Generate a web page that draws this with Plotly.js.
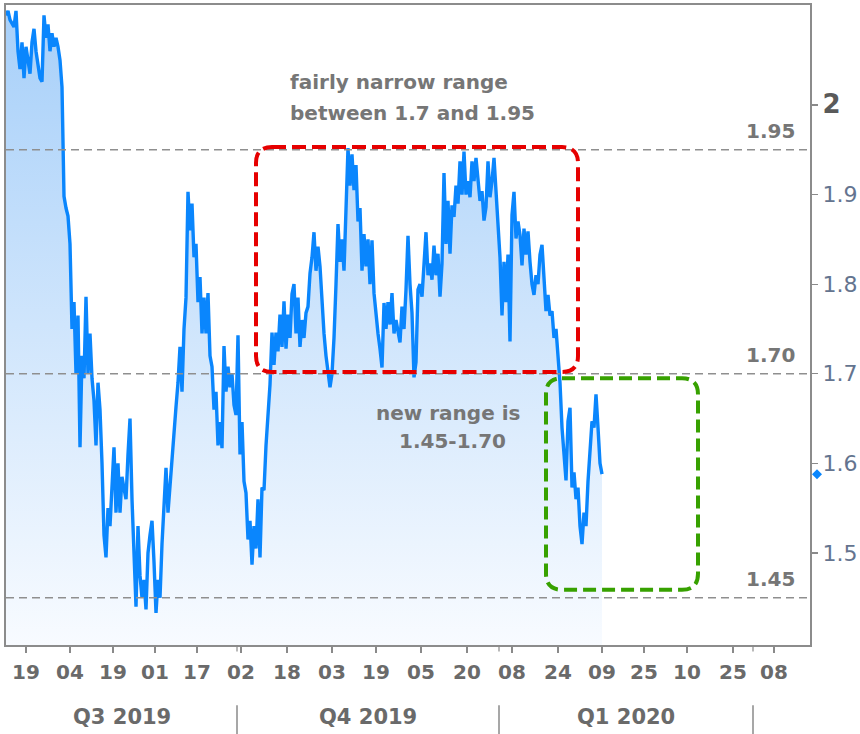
<!DOCTYPE html>
<html><head><meta charset="utf-8">
<script src="https://cdn.plot.ly/plotly-3.0.1.min.js"></script>
<style>html,body{margin:0;padding:0;background:#fff;} #chart{width:860px;height:734px;}</style>
</head><body><div id="chart"></div>
<script>
// 10-year yield, sampled at equal steps of the (trading-time) x axis
const yields = [
2.10,2.105,2.095,2.09,2.087,2.105,2.06,2.04,2.07,2.03,
2.065,2.05,2.035,2.07,2.085,2.06,2.045,2.03,2.026,2.10,
2.075,2.09,2.06,2.08,2.065,2.075,2.065,2.05,2.02,1.898,
1.885,1.876,1.845,1.75,1.78,1.70,1.765,1.618,1.72,1.695,
1.786,1.70,1.745,1.695,1.67,1.62,1.69,1.66,1.60,1.52,
1.495,1.55,1.53,1.577,1.618,1.545,1.60,1.545,1.585,1.572,
1.56,1.61,1.65,1.56,1.50,1.44,1.53,1.475,1.45,1.47,
1.437,1.50,1.52,1.536,1.49,1.433,1.47,1.45,1.51,1.56,
1.595,1.545,1.578,1.60,1.63,1.663,1.69,1.73,1.68,1.75,
1.785,1.903,1.86,1.89,1.83,1.845,1.78,1.808,1.745,1.785,
1.745,1.79,1.72,1.708,1.66,1.68,1.62,1.646,1.617,1.731,
1.68,1.708,1.685,1.70,1.665,1.654,1.743,1.61,1.646,1.58,
1.567,1.515,1.536,1.487,1.53,1.505,1.56,1.495,1.573,1.57,
1.62,1.65,1.688,1.746,1.71,1.746,1.725,1.766,1.73,1.781,
1.728,1.766,1.74,1.789,1.80,1.745,1.785,1.73,1.76,1.74,
1.768,1.775,1.812,1.83,1.858,1.815,1.842,1.82,1.775,1.745,
1.72,1.702,1.685,1.70,1.74,1.80,1.867,1.825,1.85,1.815,
1.90,1.952,1.91,1.945,1.905,1.933,1.87,1.885,1.815,1.856,
1.82,1.85,1.80,1.849,1.79,1.765,1.745,1.728,1.707,1.779,
1.75,1.78,1.755,1.79,1.745,1.76,1.745,1.735,1.775,1.75,
1.794,1.854,1.80,1.768,1.696,1.713,1.794,1.80,1.786,1.816,
1.858,1.81,1.823,1.805,1.843,1.81,1.834,1.786,1.823,1.924,
1.845,1.893,1.834,1.888,1.875,1.91,1.89,1.937,1.90,1.948,
1.90,1.915,1.897,1.937,1.915,1.941,1.915,1.893,1.904,1.871,
1.886,1.937,1.897,1.915,1.941,1.90,1.86,1.83,1.765,1.825,
1.78,1.833,1.736,1.877,1.903,1.851,1.87,1.855,1.821,1.862,
1.833,1.859,1.825,1.80,1.788,1.81,1.80,1.833,1.844,1.80,
1.77,1.788,1.765,1.77,1.74,1.75,1.718,1.69,1.64,1.605,
1.581,1.647,1.662,1.573,1.59,1.56,1.573,1.53,1.51,1.545,
1.53,1.58,1.61,1.647,1.64,1.677,1.64,1.60,1.588
];
const xTickLabels = ['19','04','19','01','17','02','18','03','19','05','20','08','24','09','25','10','25','08'];
const xTickPos = [10,32,53.5,74.5,95.5,117.5,140.5,163,185,207.5,230.5,253,276,298,319,340.5,363.5,384];
const quarterNames = ['Q3 2019','Q4 2019','Q1 2020'];
const quarterBounds = [115.5,246.5,373.5];
const yTickVals = [1.5,1.6,1.7,1.8,1.9,2];
const refLevels = [1.95,1.70,1.45];
const refLabels = ['1.95','1.70','1.45'];
const noteNarrow = ['fairly narrow range','between 1.7 and 1.95'];
const noteNew = ['new range is','1.45-1.70'];
const rangeNarrow = [1.70,1.95];
const rangeNew = [1.45,1.70];

const BLUE = '#0a86fd';
const xs = yields.map((_, i) => i);
const X_RANGE = [0, 402];
const Y_RANGE = [1.3973, 2.1116];
const PX_X = (X_RANGE[1]-X_RANGE[0]) / 804;   // x units per pixel
const PX_Y = (Y_RANGE[1]-Y_RANGE[0]) / 640;   // y units per pixel

function roundRect(x0, x1, y0, y1, rpx) {
  const rx = rpx*PX_X, ry = rpx*PX_Y;
  return `M ${x0+rx},${y1} L ${x1-rx},${y1} Q ${x1},${y1} ${x1},${y1-ry} L ${x1},${y0+ry} Q ${x1},${y0} ${x1-rx},${y0} L ${x0+rx},${y0} Q ${x0},${y0} ${x0},${y0+ry} L ${x0},${y1-ry} Q ${x0},${y1} ${x0+rx},${y1} Z`;
}

const traces = [
  {
    x: xs, y: yields, type: 'scatter', mode: 'lines',
    line: {color: BLUE, width: 3.4},
    fill: 'tozeroy',
    fillgradient: {type: 'vertical', start: Y_RANGE[0], stop: Y_RANGE[1],
      colorscale: [[0, 'rgb(248,251,255)'], [1, 'rgb(166,207,249)']]},
    hoverinfo: 'skip'
  }
];

const shapes = [];
refLevels.forEach(v => shapes.push({type: 'line', xref: 'paper', x0: 0, x1: 1, yref: 'y', y0: v, y1: v,
  line: {color: '#8f8f8f', width: 1.5, dash: '8px,5px'}, layer: 'above'}));
quarterBounds.forEach(b => {
  shapes.push({type: 'line', xref: 'x', x0: b, x1: b, yref: 'paper', y0: -0.094, y1: -0.139, line: {color: '#8a8a8a', width: 1.5}});
  shapes.push({type: 'line', xref: 'x', x0: b, x1: b, yref: 'paper', y0: 0, y1: -0.01, line: {color: '#8a8a8a', width: 1.2}});
});
// highlight boxes
shapes.push({type: 'path', xref: 'x', yref: 'y', path: roundRect(125, 286, rangeNarrow[0] + 0.002, rangeNarrow[1] + 0.003, 16),
  line: {color: '#e60000', width: 4, dash: '14px,6px'}, fillcolor: 'rgba(0,0,0,0)'});
shapes.push({type: 'path', xref: 'x', yref: 'y', path: roundRect(270, 346, rangeNew[0] + 0.009, rangeNew[1] - 0.005, 16),
  line: {color: '#37a100', width: 4, dash: '13px,6px'}, fillcolor: 'rgba(0,0,0,0)'});
// last-value marker on the price axis (diamond)
const lastVal = yields[yields.length - 1];
const dcx = 1 + 7 / 804, ddx = 5 / 804, ddy = 5 * PX_Y;
shapes.push({type: 'path', xref: 'paper', yref: 'y',
  path: `M ${dcx-ddx},${lastVal} L ${dcx},${lastVal+ddy} L ${dcx+ddx},${lastVal} L ${dcx},${lastVal-ddy} Z`,
  fillcolor: BLUE, line: {width: 0}, layer: 'above'});

const annFont = {family: 'DejaVu Sans', size: 20, color: '#767676', weight: 'bold'};
const annotations = [];
refLevels.forEach((v, i) => annotations.push({xref: 'paper', x: 0.984, xanchor: 'right', yref: 'y', y: v, yanchor: 'bottom',
  yshift: 5, text: refLabels[i], showarrow: false, font: annFont}));
annotations.push({xref: 'x', x: 141, xanchor: 'left', yref: 'y', y: 2.0257, yanchor: 'middle', text: noteNarrow[0], showarrow: false, font: annFont});
annotations.push({xref: 'x', x: 141, xanchor: 'left', yref: 'y', y: 1.991, yanchor: 'middle', text: noteNarrow[1], showarrow: false, font: annFont});
annotations.push({xref: 'x', x: 221, xanchor: 'center', yref: 'y', y: 1.6563, yanchor: 'middle', text: noteNew[0], showarrow: false, font: annFont});
annotations.push({xref: 'x', x: 223, xanchor: 'center', yref: 'y', y: 1.625, yanchor: 'middle', text: noteNew[1], showarrow: false, font: annFont});
const qStarts = [X_RANGE[0]].concat(quarterBounds.slice(0, 2));
quarterNames.forEach((q, i) => annotations.push({xref: 'x', x: (qStarts[i] + quarterBounds[i]) / 2, xanchor: 'center',
  yref: 'paper', y: -0.1125, yanchor: 'middle', text: q, showarrow: false,
  font: {family: 'DejaVu Sans', size: 21, color: '#6a6a6a', weight: 'bold'}}));

const yTickText = yTickVals.map(v => v === 2
  ? '<span style="font-weight:bold;font-size:26px;color:#5a5a5a">2</span>'
  : v.toFixed(1));

const layout = {
  width: 860, height: 734,
  margin: {l: 6, r: 50, t: 5, b: 89},
  paper_bgcolor: '#ffffff', plot_bgcolor: '#ffffff',
  showlegend: false, hovermode: false,
  xaxis: {range: X_RANGE, showgrid: false, zeroline: false,
    showline: true, mirror: true, linecolor: '#8c8c8c', linewidth: 2,
    tickmode: 'array', tickvals: xTickPos, ticktext: xTickLabels,
    ticks: 'outside', ticklen: 6, tickwidth: 1.2, tickcolor: '#8a8a8a', ticklabelstandoff: 2,
    tickfont: {family: 'DejaVu Sans', size: 20, color: '#6a6a6a', weight: 'bold'}},
  yaxis: {range: Y_RANGE, side: 'right', showgrid: false, zeroline: false,
    showline: true, mirror: true, linecolor: '#8c8c8c', linewidth: 2,
    tickmode: 'array', tickvals: yTickVals, ticktext: yTickText,
    ticks: 'outside', ticklen: 6, tickwidth: 1.2, tickcolor: '#8a8a8a',
    tickfont: {family: 'DejaVu Sans', size: 22, color: '#64748f'}},
  shapes: shapes, annotations: annotations
};

Plotly.newPlot('chart', traces, layout, {staticPlot: true, displayModeBar: false});
</script>
</body></html>
